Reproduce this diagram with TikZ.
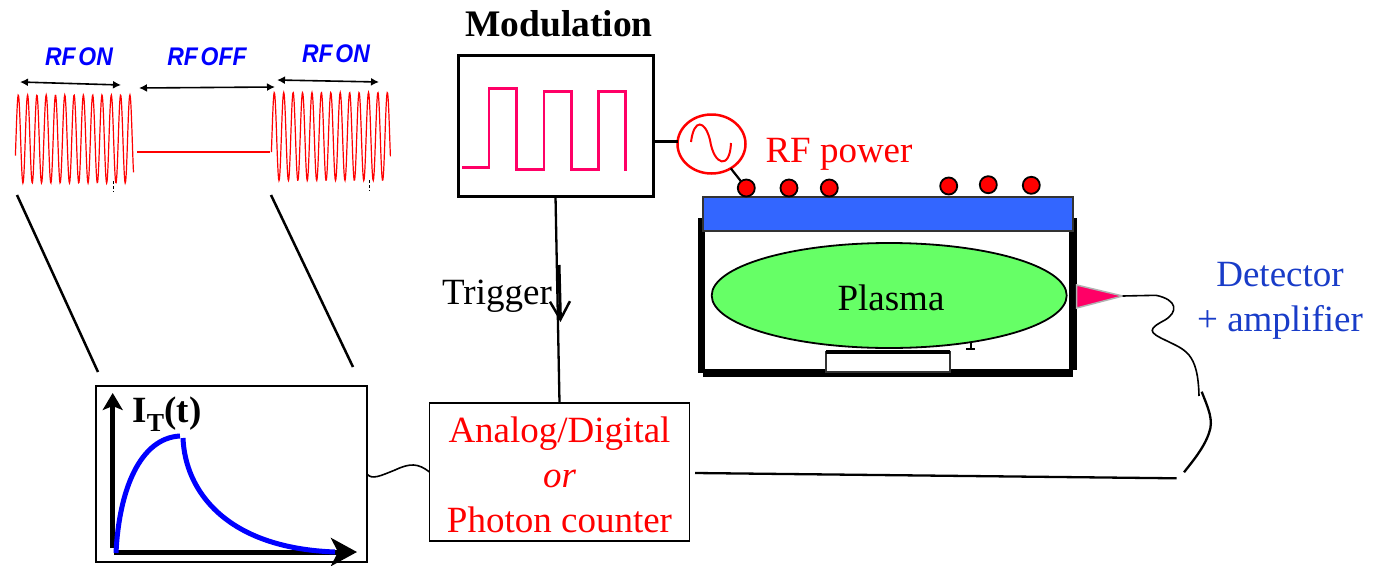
\documentclass[tikz,border=0pt]{standalone}
\usepackage{fontspec}
\setmainfont{Liberation Serif}
\setsansfont{Liberation Sans}
\usepackage{tikz}
\usetikzlibrary{arrows.meta, shapes.geometric}
\definecolor{pinkline}{RGB}{255,0,102}
\definecolor{barblue}{RGB}{51,102,255}
\definecolor{plasmagreen}{RGB}{102,255,102}
\definecolor{detblue}{RGB}{25,60,200}
\newcommand{\rftext}[2]{\scalebox{.9}[1]{#1\hspace{.12em}#2}}
\tikzset{
    x=1pt,
    y=-1pt,
    every node/.style={inner sep=0pt, outer sep=0pt},
    txt/.style={font=\fontsize{37}{45}\selectfont, align=center},
    rflabel/.style={font=\fontsize{25.5}{28}\selectfont\sffamily\bfseries\itshape, text=blue},
    dot/.style={circle, draw=black, line width=1.8pt, fill=red, minimum size=17pt},
    span/.style={line width=1.6pt, {Latex[length=8pt,width=8pt]}-{Latex[length=8pt,width=8pt]}},
    slant/.style={line width=2.5pt},
    wall/.style={line width=7.5pt},
    wave/.style={red, line width=1.2pt},
}

\begin{document}
\begin{tikzpicture}
    \useasboundingbox (0,0) rectangle (1373,565);

    % RF bursts
    \draw[wave] plot[domain=15.4:133.5, samples=300] (\x, {139-44*sin((\x-18.3)/9.3*360+90)});
    \draw[wave] plot[domain=271.4:390.4, samples=300] (\x, {136.5-44*sin((\x-274.3)/9.42*360+90)});
    \draw[red, line width=1.8pt] (137,152) -- (270,152);
    \draw[densely dashed, line width=.7pt] (113,181) -- (113,192);
    \draw[densely dashed, line width=.7pt] (369.5,180) -- (369.5,191);

    \node[rflabel] (on1) at (79,57) {\rftext{RF}{ON}};
    \node[rflabel] (off) at (207,57) {\rftext{RF}{OFF}};
    \node[rflabel] (on2) at (336,54) {\rftext{RF}{ON}};
    \coordinate (a1) at (20,82);
    \coordinate (a2) at (121,85);
    \coordinate (b1) at (139,88);
    \coordinate (b2) at (275,87);
    \coordinate (c1) at (277,80);
    \coordinate (c2) at (379,82);
    \draw[span] (a1) -- (a2);
    \draw[span] (b1) -- (b2);
    \draw[span] (c1) -- (c2);

    % boxes
    \node[draw, line width=3pt, minimum width=195pt, minimum height=141pt] (mod) at (555.5,125.5) {};
    \node[txt, font=\fontsize{37.5}{45}\selectfont\bfseries] (modlabel) at (559,24) {Modulation};
    \node[draw, line width=2.3pt, minimum width=271pt, minimum height=176pt] (itbox) at (231.5,474) {};
    \node[draw, line width=1.8pt, minimum width=260pt, minimum height=138pt] (adc) at (559.5,472) {};
    \node[txt, text=red] (adclabel) at (559.5,474.5) {Analog/Digital\\ \textit{or}\\ Photon counter};

    % modulation signal
    \draw[pinkline, line width=2.6pt] (462.3,167.3) -- (489,167.3) -- (489,88.7) -- (516.7,88.7) -- (516.7,169.3)
        -- (544,169.3) -- (544,91.3) -- (571.3,91.3) -- (571.3,169.3)
        -- (598.3,169.3) -- (598.3,91.3) -- (625.7,91.3) -- (625.7,170.7);

    % trigger
    \draw[line width=2.3pt] (mod.south) -- (adc.north);
    \coordinate (t1) at (559,265);
    \coordinate (t2) at (560.5,322);
    \draw[line width=3pt, -{Straight Barb[length=18pt,width=20pt,line width=2.5pt]}] (t1) -- (t2);
    \node[txt] (trig) at (497,296) {Trigger};

    % chamber
    \draw[wall] (701.5,218) -- (701.5,373);
    \draw[wall] (1073,218) -- (1073,369.5);
    \draw[wall] (703,373) -- (1073,373);
    \node[draw=black!80, line width=1.8pt, fill=barblue, minimum width=370pt, minimum height=34pt] (bar) at (888.3,214.3) {};
    \draw[line width=2.2pt] (970.7,340) -- (970.7,349);
    \draw[line width=2.2pt] (966,349) -- (975,349);
    \node[ellipse, draw, line width=1.8pt, fill=plasmagreen, minimum width=355pt, minimum height=105pt] (plasma) at (889.2,295.5) {};
    \node[txt] (plasmalabel) at (891,298) {Plasma};
    \node[draw=black!80, line width=1.8pt, fill=white, minimum width=124pt, minimum height=20pt] (ped) at (888,362) {};
    \draw[line width=4.5pt] (ped.north west) -- (ped.north east);

    % antenna
    \node[dot] (d1) at (746.3,188) {};
    \node[dot] (d2) at (789,188) {};
    \node[dot] (d3) at (829.3,188) {};
    \node[dot] (d4) at (948.7,186) {};
    \node[dot] (d5) at (988.3,184.7) {};
    \node[dot] (d6) at (1031.3,185.3) {};

    % source
    \node[ellipse, draw=red, line width=2.5pt, fill=white, minimum width=68pt, minimum height=59pt] (src) at (711.5,144) {};
    \draw[red, line width=2pt] (691,142) .. controls (694,118) and (705,120) .. (710,140) .. controls (714,166) and (730,170) .. (731,143);
    \draw[line width=3pt] (mod.east |- src.175) -- (src.175);
    \draw[line width=2.2pt] (src) -- (d1);
    \node[txt, text=red] (rfpower) at (839,154) {RF power};

    % signal plot
    \coordinate (o1) at (112.7,548);
    \coordinate (ytop) at (112.7,393);
    \coordinate (o2) at (114,552);
    \coordinate (xend) at (357,552);
    \draw[line width=5pt, -{Stealth[length=17pt,width=20pt,inset=4pt]}] (o1) -- (ytop);
    \draw[line width=5pt, -{Stealth[length=26pt,width=28pt,inset=7pt]}] (o2) -- (xend);
    \draw[blue, line width=5pt] (116,553) .. controls (119,490) and (140,438) .. (180,436);
    \draw[blue, line width=5pt] (183,438) .. controls (185,490) and (225,548) .. (335,552);
    \node[txt, font=\fontsize{37}{45}\selectfont\bfseries] (itlabel) at (167,414) {I\textsubscript{T}(t)};

    % slanted guide lines
    \coordinate (s1) at (17,195);
    \coordinate (s2) at (98,372);
    \coordinate (s3) at (271,195);
    \coordinate (s4) at (353,367);
    \draw[slant] (s1) -- (s2);
    \draw[slant] (s3) -- (s4);

    % cables
    \draw[line width=1.6pt] (itbox.east) .. controls (372,480) and (380,476) .. (395,470)
        .. controls (410,463) and (418,463) .. (adc.west);

    \coordinate[] (apex) at (1122.7,296);
    \draw[draw=black!30, line width=1.5pt, fill=pinkline] (1076.7,285) -- (apex) -- (1076.7,308) -- cycle;
    \coordinate (w1) at (1199,396);
    \draw[line width=1.6pt] (apex) -- (1156,295.3) .. controls (1178,300) and (1178,312) .. (1165,320)
        .. controls (1148,329) and (1148,332) .. (1165,340)
        .. controls (1185,350) and (1198,352) .. (w1);
    \coordinate (w2) at (1201.7,391.7);
    \coordinate (w3) at (1184,472.3);
    \draw[line width=2.3pt] (w2) .. controls (1208,408) and (1214,420) .. (1209,433) .. controls (1204,448) and (1192,462) .. (w3);
    \coordinate (w4) at (1176.7,478.3);
    \draw[line width=2.3pt] (695,473) -- (w4);

    \node[txt, text=detblue] (det) at (1280,275) {Detector};
    \node[txt, text=detblue] (amp) at (1280,322) {+ amplifier};
\end{tikzpicture}
\end{document}
